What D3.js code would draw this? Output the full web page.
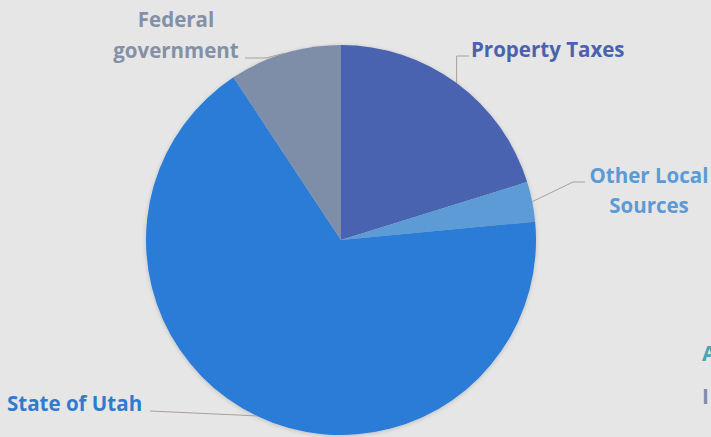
<!DOCTYPE html>
<html>
<head>
<meta charset="utf-8">
<script src="https://cdn.jsdelivr.net/npm/d3@7"></script>
<style>
  html, body { margin: 0; padding: 0; background: #e6e6e6; }
  svg { display: block; }
  text { font-family: "Open Sans", "Noto Sans", sans-serif; font-weight: 700; }
</style>
</head>
<body>
<svg id="chart" width="711" height="437"></svg>
<script>
// Revenue sources (percent of total)
const categories = ["Property Taxes", "Other Local Sources", "State of Utah", "Federal government"];
const shares = [20.2, 3.3, 67.2, 9.3];
const sliceColors = ["#4a64b0", "#5b9bd6", "#2a7bd6", "#7f8ea8"];
const labelColors = ["#4a62ad", "#5b9bd5", "#2e7bcf", "#8590a5"];

const W = 711, H = 437;
const cx = 341, cy = 240, R = 195;

const svg = d3.select("#chart");
svg.append("rect").attr("width", W).attr("height", H).attr("fill", "#e6e6e6");

const defs = svg.append("defs");
const shadow = defs.append("filter").attr("id", "soft").attr("x", "-20%").attr("y", "-20%").attr("width", "140%").attr("height", "140%");
shadow.append("feDropShadow").attr("dx", 0).attr("dy", 1).attr("stdDeviation", 2)
  .attr("flood-color", "#000").attr("flood-opacity", 0.18);

const data = categories.map((c, i) => ({ name: c, value: shares[i], color: sliceColors[i], labelColor: labelColors[i] }));

const pie = d3.pie().value(d => d.value).sort(null);
const arcs = pie(data);
const arc = d3.arc().innerRadius(0).outerRadius(R);

const g = svg.append("g").attr("transform", `translate(${cx},${cy})`);
g.append("g").attr("filter", "url(#soft)")
  .selectAll("path").data(arcs).join("path")
  .attr("d", arc)
  .attr("fill", d => d.data.color);

// point on the rim at the middle of a slice
function rim(d) {
  const a = (d.startAngle + d.endAngle) / 2;
  return [cx + R * Math.sin(a), cy - R * Math.cos(a)];
}

// leader line paths and label placement per slice (baselines of each text line)
const layout = [
  { // Property Taxes
    path: p => [p, [p[0], 56], [469, 56]],
    lines: ["Property Taxes"], x: 471, ys: [57], anchor: "start"
  },
  { // Other Local Sources
    path: p => [p, [573, 182], [585, 182]],
    lines: ["Other Local", "Sources"], x: 649, ys: [183, 213], anchor: "middle"
  },
  { // State of Utah
    path: p => [p, [150, 411]],
    lines: ["State of Utah"], x: 7, ys: [411], anchor: "start"
  },
  { // Federal government
    path: p => [p, [266, 58], [245, 58]],
    lines: ["Federal", "government"], x: 176, ys: [27, 58], anchor: "middle"
  }
];

const line = d3.line();
arcs.forEach((d, i) => {
  const L = layout[i];
  svg.append("path")
    .attr("d", line(L.path(rim(d))))
    .attr("fill", "none")
    .attr("stroke", "#a8a196")
    .attr("stroke-width", 1);
  const t = svg.append("text")
    .attr("x", L.x)
    .attr("text-anchor", L.anchor)
    .attr("fill", d.data.labelColor)
    .attr("font-size", 20.5);
  L.lines.forEach((s, k) => {
    t.append("tspan").attr("x", L.x).attr("y", L.ys[k]).text(s);
  });
});

// neighbouring content clipped at the right edge
svg.append("text").attr("x", 702).attr("y", 361).attr("fill", "#4aa3b6").attr("font-size", 21).text("A");
svg.append("text").attr("x", 702).attr("y", 404).attr("fill", "#7f8ea8").attr("font-size", 21).text("I");
</script>
</body>
</html>
